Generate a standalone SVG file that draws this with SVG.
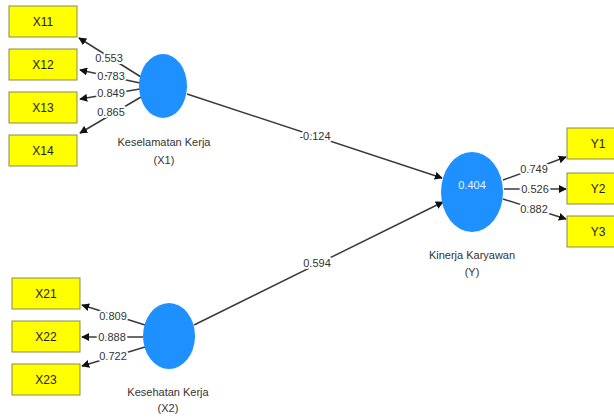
<svg xmlns="http://www.w3.org/2000/svg" width="614" height="418" viewBox="0 0 614 418">
<style>
.box{fill:#ffff00;stroke:#8a8a55;stroke-width:1}
.lv{fill:#1e90ff}
.bt{font-family:"Liberation Sans",Arial,sans-serif;font-size:12px;fill:#222;text-anchor:middle}
.nt{font-family:"Liberation Sans",Arial,sans-serif;font-size:11px;fill:#333;text-anchor:middle}
.num{font-family:"Liberation Sans",Arial,sans-serif;font-size:11px;fill:#333;text-anchor:middle;stroke:#fff;stroke-width:4;paint-order:stroke;stroke-linejoin:round}
.c{stroke:#3a3a3a;stroke-width:1.5;fill:none;marker-end:url(#ah)}
</style>
<defs>
<marker id="ah" viewBox="0 0 10 10" refX="9" refY="5" markerWidth="8" markerHeight="8" markerUnits="userSpaceOnUse" orient="auto">
<path d="M0,0 L10,5 L0,10 z" fill="#111"/>
</marker>
</defs>
<rect width="614" height="418" fill="#fff"/>
<g id="connectors">
<line class="c" x1="141" y1="77" x2="79" y2="38"/>
<line class="c" x1="140" y1="83" x2="80" y2="70"/>
<line class="c" x1="140" y1="89" x2="80" y2="99"/>
<line class="c" x1="141" y1="97" x2="80" y2="133"/>
<line class="c" x1="145" y1="325" x2="82" y2="305"/>
<line class="c" x1="143" y1="337" x2="82" y2="337"/>
<line class="c" x1="145" y1="347" x2="82" y2="366"/>
<line class="c" x1="503" y1="180" x2="566" y2="157"/>
<line class="c" x1="504" y1="189" x2="566" y2="189"/>
<line class="c" x1="503" y1="199" x2="566" y2="219"/>
<line class="c" x1="187" y1="94" x2="442" y2="178"/>
<line class="c" x1="194" y1="325" x2="443" y2="202"/>
<text class="num" x="109" y="62">0.553</text>
<text class="num" x="111" y="80">0.783</text>
<text class="num" x="111" y="97">0.849</text>
<text class="num" x="111" y="116">0.865</text>
<text class="num" x="113" y="320">0.809</text>
<text class="num" x="112" y="341">0.888</text>
<text class="num" x="113" y="360">0.722</text>
<text class="num" x="534" y="173">0.749</text>
<text class="num" x="535" y="193">0.526</text>
<text class="num" x="534" y="213">0.882</text>
<text class="num" x="315" y="140">-0.124</text>
<text class="num" x="317" y="267">0.594</text>
</g>
<g id="X11"><rect class="box" x="9" y="6" width="68" height="31"/><text class="bt" x="43" y="26">X11</text></g>
<g id="X12"><rect class="box" x="9" y="49" width="68" height="31"/><text class="bt" x="43" y="69">X12</text></g>
<g id="X13"><rect class="box" x="9" y="92" width="68" height="31"/><text class="bt" x="43" y="112">X13</text></g>
<g id="X14"><rect class="box" x="9" y="135" width="68" height="31"/><text class="bt" x="43" y="155">X14</text></g>
<g id="X21"><rect class="box" x="12" y="278" width="68" height="31"/><text class="bt" x="46" y="298">X21</text></g>
<g id="X22"><rect class="box" x="12" y="321" width="68" height="31"/><text class="bt" x="46" y="341">X22</text></g>
<g id="X23"><rect class="box" x="12" y="364" width="68" height="31"/><text class="bt" x="46" y="384">X23</text></g>
<g id="Y1"><rect class="box" x="567" y="128" width="60" height="31"/><text class="bt" x="598" y="148">Y1</text></g>
<g id="Y2"><rect class="box" x="567" y="173" width="60" height="31"/><text class="bt" x="598" y="193">Y2</text></g>
<g id="Y3"><rect class="box" x="567" y="216" width="60" height="31"/><text class="bt" x="598" y="236">Y3</text></g>
<g id="X1"><ellipse class="lv" cx="163" cy="86" rx="24" ry="32"/><text class="nt" x="164" y="146">Keselamatan Kerja</text><text class="nt" x="164" y="164">(X1)</text></g>
<g id="X2"><ellipse class="lv" cx="169" cy="336" rx="26" ry="33"/><text class="nt" x="168" y="396">Kesehatan Kerja</text><text class="nt" x="168" y="412">(X2)</text></g>
<g id="Y"><ellipse class="lv" cx="472" cy="192" rx="31" ry="40"/><text class="nt" x="472" y="189" style="fill:#eef5ff">0.404</text><text class="nt" x="472" y="259">Kinerja Karyawan</text><text class="nt" x="472" y="276">(Y)</text></g>
</svg>
